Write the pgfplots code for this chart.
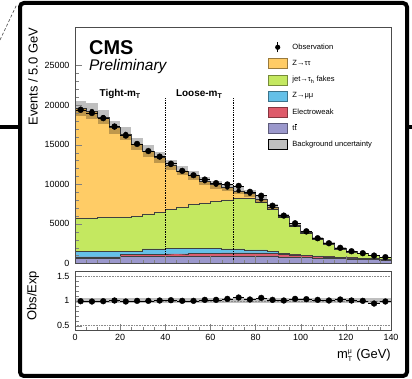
\documentclass[border=0pt]{standalone}
\usepackage{fontspec}
\setmainfont{Liberation Sans}
\usepackage{amsmath}
\usepackage{pgfplots}
\usepackage{pgfplotstable}
\pgfplotsset{compat=1.18}

\definecolor{cZtt}{RGB}{255,204,102}
\definecolor{cFake}{RGB}{196,232,96}
\definecolor{cZmm}{RGB}{100,192,232}
\definecolor{cEW}{RGB}{222,90,106}
\definecolor{cTT}{RGB}{155,152,204}

% expected backgrounds per 5 GeV bin (lower bin edge), in thousands of events;
% the last row closes the histogram
\pgfplotstableread{
x    tt    ew    zmm   fk    ztt
0    0.67  0.17  0.71  4.17  13.82
5    0.67  0.17  0.71  4.21  13.49
10   0.67  0.17  0.71  4.25  12.68
15   0.67  0.17  0.71  4.28  11.35
20   0.92  0.20  0.43  4.35  10.46
25   0.92  0.20  0.43  4.41  9.14
30   0.92  0.24  0.69  4.41  7.94
35   0.92  0.24  0.69  4.61  6.95
40   0.93  0.30  0.70  4.95  5.56
45   0.93  0.30  0.70  5.16  4.61
50   0.95  0.35  0.63  5.50  3.72
55   0.95  0.35  0.63  5.67  2.79
60   0.95  0.35  0.63  5.87  2.15
65   0.95  0.40  0.50  6.17  1.58
70   0.95  0.40  0.50  6.42  0.91
75   0.95  0.40  0.37  6.50  0.59
80   0.95  0.40  0.37  6.03  0.33
85   0.95  0.37  0.23  5.35  0.26
90   0.85  0.32  0.15  4.47  0.22
95   0.80  0.28  0.10  3.52  0.18
100  0.75  0.25  0.07  2.72  0.15
105  0.70  0.22  0.05  2.04  0.12
110  0.65  0.18  0.04  1.57  0.10
115  0.62  0.15  0.03  1.05  0.08
120  0.58  0.13  0.02  0.75  0.06
125  0.55  0.11  0.02  0.57  0.05
130  0.50  0.10  0.01  0.41  0.04
135  0.47  0.08  0.01  0.22  0.03
140  0.47  0.08  0.01  0.22  0.03
}\bkg

% observed events at bin centres, in thousands
\pgfplotstableread{
x      obs
2.5    19.40
7.5    19.00
12.5   18.35
17.5   17.30
22.5   16.15
27.5   15.10
32.5   14.20
37.5   13.50
42.5   12.60
47.5   11.70
52.5   11.15
57.5   10.60
62.5   10.15
67.5   9.98
72.5   9.80
77.5   9.05
82.5   8.56
87.5   7.30
92.5   6.05
97.5   5.08
102.5  4.07
107.5  3.19
112.5  2.56
117.5  1.98
122.5  1.55
127.5  1.30
132.5  1.00
137.5  0.80
}\obs

% observed / expected
\pgfplotstableread{
x      r
2.5    0.993
7.5    0.987
12.5   0.993
17.5   1.007
22.5   0.987
27.5   1.000
32.5   1.000
37.5   1.007
42.5   1.013
47.5   1.000
52.5   1.000
57.5   1.020
62.5   1.020
67.5   1.040
72.5   1.067
77.5   1.027
82.5   1.060
87.5   1.020
92.5   1.007
97.5   1.040
102.5  1.034
107.5  1.020
112.5  1.007
117.5  1.027
122.5  1.007
127.5  1.000
132.5  0.946
137.5  0.987
}\ratio

\pgfplotsset{
  boxlegend/.style={legend image code/.code={\draw[##1] (0bp,-5bp) rectangle (19bp,5bp);}},
  obslegend/.style={legend image code/.code={%
      \path[draw=none, fill=none] (0bp,-5bp) rectangle (19bp,5bp);
      \draw[black, line width=0.6bp] (9.5bp,-5bp) -- (9.5bp,5bp);
      \fill[black, draw=none] (9.5bp,0bp) circle (2.6bp);}},
  cmsaxis/.style={
    scale only axis, anchor=south west,
    xmin=0, xmax=140,
    xtick={0,20,...,140}, minor x tick num=3,
    tick align=inside, tick pos=left,
    major tick length=7bp, minor tick length=3.5bp,
    axis on top,
    /pgf/number format/assume math mode=true,
    tick label style={font=\fontsize{9}{10}\selectfont},
    yticklabel style={xshift=-2bp},
    axis line style={black!70, line width=0.6bp},
  },
}

\newcommand{\stot}{\thisrow{tt}+\thisrow{ew}+\thisrow{zmm}+\thisrow{fk}+\thisrow{ztt}}

\begin{document}
\begin{tikzpicture}
\useasboundingbox (0bp,0bp) rectangle (412bp,379bp);

% slide frame around the figure
\draw[line width=4bp, rounded corners=4bp] (20bp,3bp) rectangle (407bp,376bp);
\draw[line width=4bp] (0bp,252bp) -- (20bp,252bp);
\draw[line width=4bp] (407bp,252bp) -- (412bp,252bp);
\draw[densely dashed, black!70, line width=0.6bp] (0bp,339bp) -- (17bp,375bp);

% ---------------- main panel ----------------
\begin{axis}[cmsaxis,
  at={(75bp,115.5bp)}, width=316bp, height=236bp,
  ymin=0, ymax=29.8,
  xticklabels={},
  ytick={0,5,...,25}, yticklabels={0,5000,10000,15000,20000,25000},
  minor y tick num=4,
  ylabel={Events / 5.0 GeV},
  ylabel style={font=\fontsize{13}{14}\selectfont, at={(axis description cs:-0.133,1)}, anchor=east, inner sep=0pt},
  legend style={at={(0.6108,0.9386)}, anchor=north west, draw=none, fill=none,
    inner sep=0pt, outer sep=0pt, font=\fontsize{7.6}{9}\selectfont, row sep=5.8bp,
    nodes={inner sep=0pt, text height=5.5bp, text depth=1.5bp},
    /tikz/every odd column/.append style={column sep=5bp}},
  legend cell align=left,
]
\addlegendimage{obslegend}\addlegendentry{Observation}
\addlegendimage{boxlegend, fill=cZtt, draw=cZtt!60!black}\addlegendentry{Z→ττ}
\addlegendimage{boxlegend, fill=cFake, draw=cFake!60!black}\addlegendentry{jet→τ$_{\mbox{\fontsize{5.5}{5.5}\selectfont h}}$ fakes}
\addlegendimage{boxlegend, fill=cZmm, draw=cZmm!60!black}\addlegendentry{Z→μμ}
\addlegendimage{boxlegend, fill=cEW, draw=cEW!60!black}\addlegendentry{Electroweak}
\addlegendimage{boxlegend, fill=cTT, draw=cTT!60!black}\addlegendentry{t$\overline{\mbox{t}}$}
\addlegendimage{boxlegend, fill=black!25, draw=none}\addlegendentry{Background uncertainty}

% stacked backgrounds, drawn from the top of the stack downwards
\addplot[const plot, fill=cZtt, draw=black!75, line width=0.5bp, forget plot]
  table[x=x, y expr=\stot] {\bkg} \closedcycle;
\addplot[const plot, fill=cFake, draw=black!75, line width=0.5bp, forget plot]
  table[x=x, y expr=\thisrow{tt}+\thisrow{ew}+\thisrow{zmm}+\thisrow{fk}] {\bkg} \closedcycle;
\addplot[const plot, fill=cZmm, draw=black!75, line width=0.5bp, forget plot]
  table[x=x, y expr=\thisrow{tt}+\thisrow{ew}+\thisrow{zmm}] {\bkg} \closedcycle;
\addplot[const plot, fill=cEW, draw=black!75, line width=0.5bp, forget plot]
  table[x=x, y expr=\thisrow{tt}+\thisrow{ew}] {\bkg} \closedcycle;
\addplot[const plot, fill=cTT, draw=black!75, line width=0.5bp, forget plot]
  table[x=x, y=tt] {\bkg} \closedcycle;

% background uncertainty: one bin-wide bar of +-5% per bin
\addplot[only marks, mark=none, forget plot,
  error bars/.cd, y dir=both, y fixed relative=0.05, error mark=none,
  error bar style={line width=11.286bp, black, opacity=0.25}]
  table[x expr=\thisrow{x}+2.5, y expr=\stot] {\bkg};

% category boundaries
\addplot[black, densely dotted, line width=0.7bp, forget plot] coordinates {(40,0) (40,20.86)};
\addplot[black, densely dotted, line width=0.7bp, forget plot] coordinates {(70,0) (70,20.86)};

% data
\addplot[black, only marks, mark=*, mark size=2.9bp, forget plot,
  error bars/.cd, x dir=both, x fixed=2.5, y dir=both, y fixed=0.08,
  error mark=none, error bar style={line width=0.6bp}]
  table[x=x, y=obs] {\obs};

\node[anchor=base west, inner sep=0pt, font=\fontsize{20}{20}\selectfont\bfseries]
  at (rel axis cs:0.0443,0.8864) {CMS};
\node[anchor=base west, inner sep=0pt, font=\fontsize{15.5}{16}\selectfont\itshape]
  at (rel axis cs:0.0443,0.8157) {Preliminary};
\node[anchor=base, inner sep=0pt, font=\fontsize{10}{11}\selectfont\bfseries]
  at (axis cs:20,21.05) {Tight-m$_{\mbox{\fontsize{7}{7}\selectfont\bfseries T}}$};
\node[anchor=base, inner sep=0pt, font=\fontsize{10}{11}\selectfont\bfseries]
  at (axis cs:55,21.05) {Loose-m$_{\mbox{\fontsize{7}{7}\selectfont\bfseries T}}$};
\node[anchor=base east, inner sep=0pt, font=\fontsize{11.5}{12}\selectfont]
  at (rel axis cs:1,1.022) {35.9 fb\textsuperscript{-1} (13 TeV)};
\node[anchor=base west, inner sep=0pt, font=\fontsize{9.5}{10}\selectfont]
  at (rel axis cs:0.006,1.026) {μτ$_{\mbox{\fontsize{6}{6}\selectfont h}}$};
\end{axis}

% ---------------- ratio panel ----------------
\begin{axis}[cmsaxis,
  at={(75bp,48.3bp)}, width=316bp, height=59.7bp,
  ymin=0.4, ymax=1.6,
  ytick={0.5,1,1.5}, yticklabels={0.5,1,1.5}, minor y tick num=4,
  xlabel={m$^{\mbox{\fontsize{7}{7}\selectfont μ}}_{\mbox{\fontsize{7}{7}\selectfont T}}$ (GeV)},
  xlabel style={font=\fontsize{13}{14}\selectfont, at={(axis description cs:1,-0.467)}, anchor=base east, inner sep=0pt},
  ylabel={Obs/Exp},
  ylabel style={font=\fontsize{13}{14}\selectfont, at={(axis description cs:-0.133,0.583)}, anchor=center, inner sep=0pt},
]
\addplot[fill=black!25, draw=none, forget plot] coordinates {(0,0.95) (140,0.95) (140,1.05) (0,1.05)} -- cycle;
\addplot[black!45, densely dotted, line width=0.6bp, forget plot] coordinates {(0,1.5) (140,1.5)};
\addplot[black!45, densely dotted, line width=0.6bp, forget plot] coordinates {(0,0.5) (140,0.5)};
\addplot[black!45, densely dotted, line width=0.5bp, forget plot] coordinates {(0,1) (140,1)};
\addplot[black, only marks, mark=*, mark size=2.9bp, forget plot,
  error bars/.cd, x dir=both, x fixed=2.5, y dir=both, y fixed=0.01,
  error mark=none, error bar style={line width=0.6bp}]
  table[x=x, y=r] {\ratio};
\end{axis}
\end{tikzpicture}
\end{document}
